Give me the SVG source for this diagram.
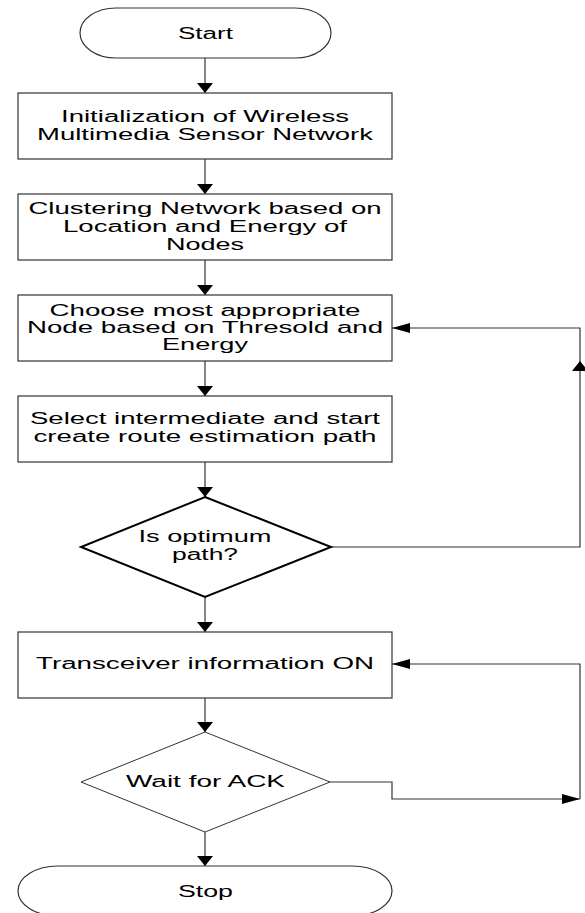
<svg xmlns="http://www.w3.org/2000/svg" width="585" height="913" viewBox="0 0 585 913">
<style>
.box{fill:#fff;stroke:#333;stroke-width:1.2}
.dthick{fill:#fff;stroke:#000;stroke-width:2}
.dthin{fill:#fff;stroke:#333;stroke-width:1}
.t{font-family:"Liberation Sans",Arial,sans-serif;font-size:16px;fill:#000;text-anchor:middle}
.c{fill:none;stroke:#333;stroke-width:1.2}
</style>
<defs>
<marker id="av" markerUnits="userSpaceOnUse" markerWidth="10" markerHeight="16" refX="10" refY="8" orient="auto" viewBox="0 0 10 16"><path d="M0,0 L10,8 L0,16 z" fill="#000"/></marker>
<marker id="ah" markerUnits="userSpaceOnUse" markerWidth="18" markerHeight="10" refX="18" refY="5" orient="auto" viewBox="0 0 18 10"><path d="M0,0 L18,5 L0,10 z" fill="#000"/></marker>
</defs>
<rect width="585" height="913" fill="#fff"/>
<g id="connectors">
<path class="c" d="M205,58 V93" marker-end="url(#av)"/>
<path class="c" d="M205,159 V194" marker-end="url(#av)"/>
<path class="c" d="M205,260 V295" marker-end="url(#av)"/>
<path class="c" d="M205,361 V396" marker-end="url(#av)"/>
<path class="c" d="M205,462 V497" marker-end="url(#av)"/>
<path class="c" d="M205,597 V632" marker-end="url(#av)"/>
<path class="c" d="M205,698 V732" marker-end="url(#av)"/>
<path class="c" d="M205,832 V866" marker-end="url(#av)"/>
<path class="c" d="M331,547 H580 V361" marker-end="url(#av)"/>
<path class="c" d="M580,361 V328 H392" marker-end="url(#ah)"/>
<path class="c" d="M330,782 H392 V799 H580" marker-end="url(#ah)"/>
<path class="c" d="M580,799 V664 H392" marker-end="url(#ah)"/>
</g>
<g id="start">
<rect class="box" x="80" y="8" width="251" height="50" rx="36" ry="25"/>
<text class="t" x="205.5" y="39" textLength="55" lengthAdjust="spacingAndGlyphs">Start</text>
</g>
<g id="init">
<rect class="box" x="18" y="93" width="374" height="66"/>
<text class="t" x="205" y="122" textLength="288" lengthAdjust="spacingAndGlyphs">Initialization of Wireless</text>
<text class="t" x="205" y="140" textLength="336" lengthAdjust="spacingAndGlyphs">Multimedia Sensor Network</text>
</g>
<g id="cluster">
<rect class="box" x="18" y="194" width="374" height="66"/>
<text class="t" x="205" y="214" textLength="353" lengthAdjust="spacingAndGlyphs">Clustering Network based on</text>
<text class="t" x="205" y="232" textLength="284" lengthAdjust="spacingAndGlyphs">Location and Energy of</text>
<text class="t" x="205" y="250" textLength="78" lengthAdjust="spacingAndGlyphs">Nodes</text>
</g>
<g id="choose">
<rect class="box" x="18" y="295" width="374" height="66"/>
<text class="t" x="205" y="316" textLength="311" lengthAdjust="spacingAndGlyphs">Choose most appropriate</text>
<text class="t" x="205" y="333" textLength="356" lengthAdjust="spacingAndGlyphs">Node based on Thresold and</text>
<text class="t" x="205" y="350" textLength="86" lengthAdjust="spacingAndGlyphs">Energy</text>
</g>
<g id="select">
<rect class="box" x="18" y="396" width="374" height="66"/>
<text class="t" x="205" y="424" textLength="350" lengthAdjust="spacingAndGlyphs">Select intermediate and start</text>
<text class="t" x="205" y="442" textLength="343" lengthAdjust="spacingAndGlyphs">create route estimation path</text>
</g>
<g id="optimum">
<polygon class="dthick" points="205,497 331,547 205,597 81,547"/>
<text class="t" x="205" y="542" textLength="133" lengthAdjust="spacingAndGlyphs">Is optimum</text>
<text class="t" x="205" y="560" textLength="66" lengthAdjust="spacingAndGlyphs">path?</text>
</g>
<g id="transceiver">
<rect class="box" x="18" y="632" width="374" height="66"/>
<text class="t" x="205" y="669" textLength="338" lengthAdjust="spacingAndGlyphs">Transceiver information ON</text>
</g>
<g id="wait">
<polygon class="dthin" points="205,732 330,782 205,832 81,782"/>
<text class="t" x="205.5" y="787" textLength="159" lengthAdjust="spacingAndGlyphs">Wait for ACK</text>
</g>
<g id="stop">
<rect class="box" x="18" y="866" width="374" height="50" rx="40" ry="25"/>
<text class="t" x="205.5" y="897" textLength="55" lengthAdjust="spacingAndGlyphs">Stop</text>
</g>
</svg>
